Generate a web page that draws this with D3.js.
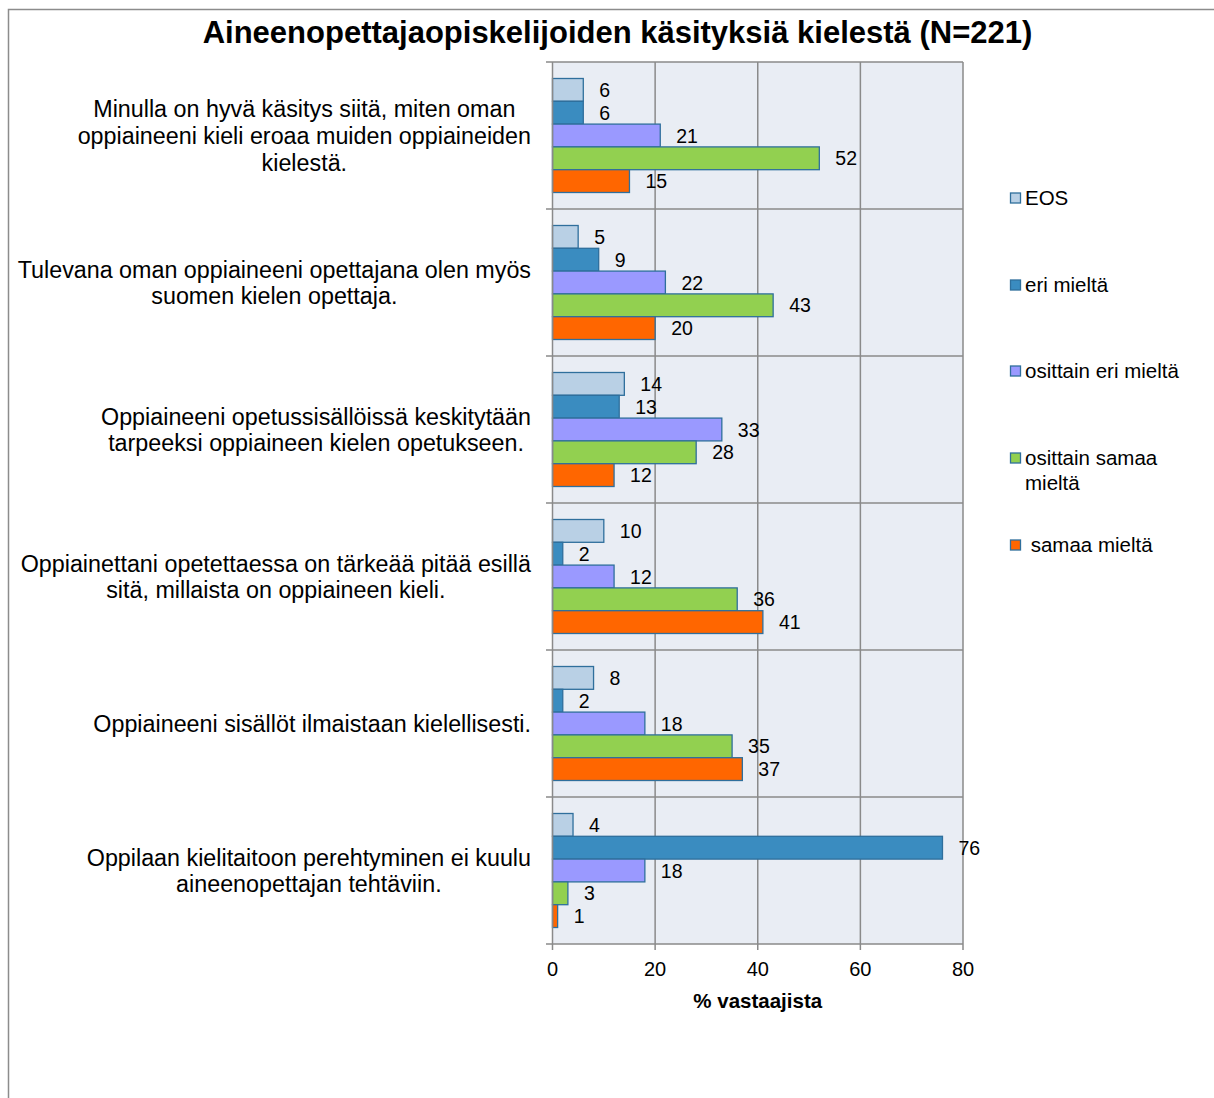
<!DOCTYPE html>
<html><head><meta charset="utf-8">
<script src="https://cdn.jsdelivr.net/npm/d3@7"></script>
<style>
body{margin:0;background:#fff;}
svg text{font-family:Arial,"Liberation Sans",Helvetica,sans-serif;fill:#000;}
</style></head><body>
<svg id="c" width="1214" height="1098"></svg>
<script>
const categories = [
  "Minulla on hyvä käsitys siitä, miten oman|oppiaineeni kieli eroaa muiden oppiaineiden|kielestä.",
  "Tulevana oman oppiaineeni opettajana olen myös|suomen kielen opettaja.",
  "Oppiaineeni opetussisällöissä keskitytään|tarpeeksi oppiaineen kielen opetukseen.",
  "Oppiainettani opetettaessa on tärkeää pitää esillä|sitä, millaista on oppiaineen kieli.",
  "Oppiaineeni sisällöt ilmaistaan kielellisesti.",
  "Oppilaan kielitaitoon perehtyminen ei kuulu|aineenopettajan tehtäviin."
];
const seriesNames = ["EOS","eri mieltä","osittain eri mieltä","osittain samaa mieltä","samaa mieltä"];
const legendLabels = ["EOS","eri mieltä","osittain eri mieltä","osittain samaa|mieltä","\u00a0samaa mieltä"];
const seriesColors = ["#b9d0e5","#3a8cc0","#9a99ff","#92d050","#ff6600"];
const EOS = [6,5,14,10,8,4];
const eriMielta = [6,9,13,2,2,76];
const osittainEri = [21,22,33,12,18,18];
const osittainSamaa = [52,43,28,36,35,3];
const samaaMielta = [15,20,12,41,37,1];
const xTicks = [0,20,40,60,80];
const title = "Aineenopettajaopiskelijoiden käsityksiä kielestä (N=221)";
const xTitle = "% vastaajista";

const series = [EOS, eriMielta, osittainEri, osittainSamaa, samaaMielta];
const svg = d3.select("#c");
const L = 552.5, R = 963, T = 62, B = 944;
const gridCol = "#8a8a8a", edge = "#2f6f9c";

svg.append("rect").attr("x",8.5).attr("y",9.5).attr("width",1230).attr("height",1120)
  .attr("fill","none").attr("stroke","#8c8c8c").attr("stroke-width",1.5);

const x = d3.scaleLinear().domain([0,80]).range([L,R]);
const yG = d3.scaleBand().domain(d3.range(categories.length)).range([T,B]);
const yS = d3.scaleBand().domain(d3.range(seriesNames.length)).range([16.5, yG.bandwidth()-16.5]);

svg.append("rect").attr("x",L).attr("y",T).attr("width",R-L).attr("height",B-T).attr("fill","#e9edf4");

svg.append("g").selectAll("line").data(xTicks.slice(1)).join("line")
  .attr("x1",d=>x(d)).attr("x2",d=>x(d)).attr("y1",T).attr("y2",B)
  .attr("stroke",gridCol).attr("stroke-width",1.5);
const bounds = d3.range(categories.length).map(i=> yG(i));
svg.append("g").selectAll("line").data(bounds).join("line")
  .attr("x1",546).attr("x2",R).attr("y1",d=>d).attr("y2",d=>d)
  .attr("stroke",gridCol).attr("stroke-width",1.5);

const groups = svg.append("g").selectAll("g").data(categories).join("g")
  .attr("transform",(d,i)=>`translate(0,${yG(i)})`);
groups.each(function(c,gi){
  const g = d3.select(this);
  series.forEach((s,si)=>{
    g.append("rect").attr("x",x(0)).attr("y",yS(si)).attr("width",x(s[gi])-x(0)).attr("height",yS.bandwidth())
      .attr("fill",seriesColors[si]).attr("stroke",edge).attr("stroke-width",1.3);
    g.append("text").attr("x",x(s[gi])+16).attr("y",yS(si)+yS.bandwidth()/2).attr("dy","0.36em")
      .attr("font-size",19.5).text(s[gi]);
  });
});

svg.append("line").attr("x1",L).attr("x2",L).attr("y1",T).attr("y2",B).attr("stroke",gridCol).attr("stroke-width",1.5);
svg.append("line").attr("x1",546).attr("x2",R).attr("y1",B).attr("y2",B).attr("stroke",gridCol).attr("stroke-width",1.5);
svg.append("g").selectAll("line").data(xTicks).join("line")
  .attr("x1",d=>x(d)).attr("x2",d=>x(d)).attr("y1",B).attr("y2",B+6).attr("stroke",gridCol).attr("stroke-width",1.5);
svg.append("g").selectAll("text").data(xTicks).join("text")
  .attr("x",d=>x(d)).attr("y",969).attr("dy","0.36em").attr("text-anchor","middle").attr("font-size",20).text(d=>d);
svg.append("text").attr("x",(L+R)/2).attr("y",1001).attr("dy","0.36em").attr("text-anchor","middle")
  .attr("font-size",20.5).attr("font-weight","bold").text(xTitle);

categories.forEach((c,i)=>{
  const lines = c.split("|");
  const t = svg.append("text").attr("font-size",23.3).attr("text-anchor","middle");
  const lh = 26.7;
  const cy = yG(i)+yG.bandwidth()/2;
  const spans = lines.map((ln,k)=> t.append("tspan").attr("y",cy+(k-(lines.length-1)/2)*lh).attr("dy","0.36em").text(ln));
  const w = d3.max(spans.map(s=>s.node().getComputedTextLength()));
  spans.forEach(s=>s.attr("x",531 - w/2));
});

svg.append("text").attr("x",617.5).attr("y",32).attr("dy","0.36em").attr("text-anchor","middle")
  .attr("font-size",31).attr("font-weight","bold").text(title);

const legY = [198,285,371,458,545];
legendLabels.forEach((lab,i)=>{
  svg.append("rect").attr("x",1010.5).attr("y",legY[i]-5).attr("width",10).attr("height",10)
    .attr("fill",seriesColors[i]).attr("stroke",edge).attr("stroke-width",1.3);
  const t = svg.append("text").attr("font-size",20.5);
  lab.split("|").forEach((ln,k)=> t.append("tspan").attr("x",1025).attr("y",legY[i]+k*25).attr("dy","0.36em").text(ln));
});
</script></body></html>
